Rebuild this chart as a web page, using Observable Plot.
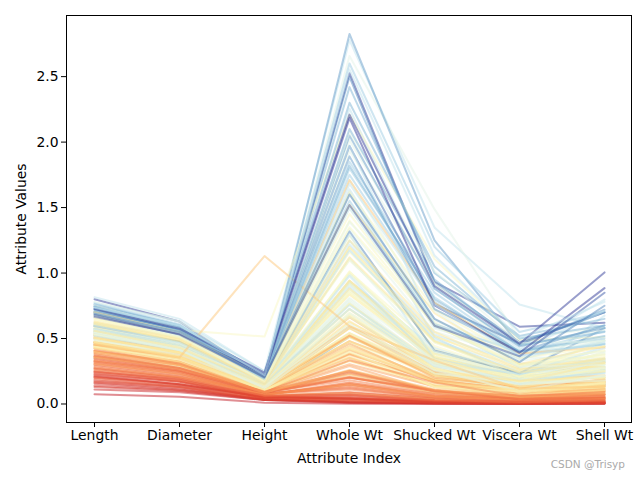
<!DOCTYPE html>
<html>
<head>
<meta charset="utf-8">
<script src="https://cdn.jsdelivr.net/npm/d3@7"></script>
<script src="https://cdn.jsdelivr.net/npm/@observablehq/plot@0.6"></script>
<style>
  html, body { margin: 0; padding: 0; background: white; }
  #chart { width: 640px; height: 480px; }
</style>
</head>
<body>
<div id="chart"></div>
<script>
// Categories (x axis)
const attributes = ["Length", "Diameter", "Height", "Whole Wt", "Shucked Wt", "Viscera Wt", "Shell Wt"];
const yTicks = [0, 0.5, 1.0, 1.5, 2.0, 2.5];
// ring statistics used for the logistic colour mapping
const meanRings = 9.934;
const sdRings = 3.224;

// Specimens: [Length, Diameter, Height, Whole, Shucked, Viscera, Shell, Rings]
const mediumShellsA = [
  [0.455,0.365,0.095,0.514,0.2245,0.101,0.15,15],
  [0.35,0.265,0.09,0.2255,0.0995,0.0485,0.07,7],
  [0.53,0.42,0.135,0.677,0.2565,0.1415,0.21,9],
  [0.44,0.365,0.125,0.516,0.2155,0.114,0.155,10],
  [0.33,0.255,0.08,0.205,0.0895,0.0395,0.055,7],
  [0.425,0.3,0.095,0.3515,0.141,0.0775,0.12,8],
  [0.53,0.415,0.15,0.7775,0.237,0.1415,0.33,11],
  [0.545,0.425,0.125,0.768,0.294,0.1495,0.26,11],
  [0.475,0.37,0.125,0.5095,0.2165,0.1125,0.165,9],
  [0.55,0.44,0.15,0.8945,0.3145,0.151,0.32,12],
  [0.525,0.38,0.14,0.6065,0.194,0.1475,0.21,10],
  [0.43,0.35,0.11,0.406,0.1675,0.081,0.135,10],
  [0.49,0.38,0.135,0.5415,0.2175,0.095,0.19,11],
  [0.535,0.405,0.145,0.6845,0.2725,0.171,0.205,10],
  [0.47,0.355,0.1,0.4755,0.1675,0.0805,0.185,10],
  [0.5,0.4,0.13,0.6645,0.258,0.133,0.24,12],
  [0.355,0.28,0.085,0.2905,0.095,0.0395,0.115,7],
  [0.44,0.34,0.1,0.451,0.188,0.087,0.13,10],
  [0.365,0.295,0.08,0.2555,0.097,0.043,0.1,7],
  [0.45,0.32,0.1,0.381,0.1705,0.075,0.115,9],
  [0.355,0.28,0.095,0.2455,0.0955,0.062,0.075,11],
  [0.38,0.275,0.1,0.2255,0.08,0.049,0.085,10],
  [0.565,0.44,0.155,0.9395,0.4275,0.214,0.27,12],
  [0.55,0.415,0.135,0.7635,0.318,0.21,0.2,9],
  [0.615,0.48,0.165,1.1615,0.513,0.301,0.305,10],
  [0.56,0.44,0.14,0.9285,0.3825,0.188,0.3,11],
  [0.58,0.45,0.185,0.9955,0.3945,0.272,0.285,11],
  [0.59,0.445,0.14,0.931,0.356,0.234,0.28,12],
  [0.605,0.475,0.18,0.9365,0.394,0.219,0.295,11],
  [0.575,0.425,0.14,0.8635,0.393,0.227,0.2,11],
  [0.58,0.47,0.165,0.9975,0.3935,0.242,0.33,10],
  [0.68,0.56,0.165,1.639,0.6055,0.2805,0.46,12],
  [0.665,0.525,0.165,1.338,0.5515,0.3575,0.35,11],
  [0.68,0.55,0.175,1.798,0.815,0.3925,0.455,13],
  [0.705,0.55,0.2,1.7095,0.633,0.4115,0.49,11],
  [0.465,0.355,0.105,0.4795,0.227,0.124,0.125,8],
  [0.54,0.475,0.155,1.217,0.5305,0.3075,0.34,12],
  [0.45,0.355,0.105,0.5225,0.237,0.1165,0.145,8],
  [0.575,0.445,0.135,0.883,0.381,0.2035,0.26,11],
  [0.355,0.29,0.09,0.3275,0.134,0.086,0.09,9],
  [0.45,0.335,0.105,0.425,0.1865,0.091,0.115,9],
  [0.55,0.425,0.135,0.8515,0.362,0.196,0.27,10],
  [0.39,0.295,0.095,0.203,0.0875,0.045,0.075,7],
  [0.47,0.37,0.12,0.5795,0.293,0.227,0.14,9],
  [0.46,0.375,0.12,0.4605,0.1775,0.11,0.15,7],
  [0.525,0.425,0.16,0.8355,0.3545,0.2135,0.245,9],
  [0.52,0.41,0.12,0.595,0.2385,0.111,0.19,8],
  [0.4,0.32,0.095,0.303,0.1335,0.06,0.1,7],
  [0.485,0.36,0.13,0.5415,0.2595,0.096,0.16,10],
  [0.47,0.36,0.12,0.4775,0.2105,0.1055,0.15,10],
  [0.405,0.31,0.1,0.385,0.173,0.0915,0.11,7],
  [0.5,0.4,0.14,0.6615,0.2565,0.1755,0.22,8],
  [0.445,0.35,0.12,0.4425,0.192,0.0955,0.135,8],
  [0.47,0.385,0.135,0.5895,0.2765,0.12,0.17,8]
];

const smallShellsA = [
  [0.155,0.11,0.04,0.0155,0.0065,0.003,0.005,3],
  [0.2,0.145,0.05,0.042,0.017,0.009,0.012,4],
  [0.24,0.175,0.045,0.07,0.0315,0.0235,0.02,5],
  [0.29,0.21,0.075,0.1375,0.0545,0.034,0.04,6],
  [0.18,0.135,0.035,0.0355,0.015,0.007,0.01,3],
  [0.325,0.245,0.075,0.1495,0.0605,0.033,0.045,5],
  [0.255,0.185,0.06,0.0925,0.039,0.021,0.025,6],
  [0.37,0.275,0.085,0.2405,0.104,0.0535,0.07,5],
  [0.205,0.15,0.055,0.042,0.0255,0.015,0.012,5],
  [0.3,0.22,0.08,0.121,0.0475,0.042,0.035,5],
  [0.245,0.19,0.06,0.086,0.042,0.014,0.025,4],
  [0.335,0.25,0.09,0.181,0.0755,0.0415,0.06,6],
  [0.21,0.15,0.05,0.042,0.0175,0.0125,0.015,4],
  [0.31,0.235,0.07,0.151,0.063,0.0405,0.045,6],
  [0.275,0.205,0.075,0.1105,0.045,0.0285,0.035,6],
  [0.325,0.245,0.07,0.161,0.0755,0.0255,0.045,6]
];

const mediumShellsB = [
  [0.505,0.4,0.125,0.583,0.246,0.13,0.175,7],
  [0.45,0.345,0.105,0.4115,0.18,0.1125,0.135,7],
  [0.505,0.405,0.11,0.625,0.305,0.16,0.175,9],
  [0.53,0.41,0.13,0.6965,0.302,0.1935,0.2,10],
  [0.425,0.325,0.095,0.3785,0.1705,0.08,0.1,7],
  [0.52,0.4,0.12,0.58,0.234,0.1315,0.185,8],
  [0.475,0.355,0.12,0.48,0.234,0.1015,0.135,8],
  [0.565,0.44,0.16,0.915,0.354,0.1935,0.32,12],
  [0.595,0.495,0.185,1.285,0.416,0.224,0.485,10],
  [0.475,0.39,0.12,0.5305,0.2135,0.1155,0.17,10],
  [0.555,0.425,0.13,0.7665,0.264,0.168,0.275,10],
  [0.4,0.32,0.11,0.353,0.1405,0.0985,0.1,8],
  [0.595,0.475,0.17,1.247,0.48,0.225,0.425,12],
  [0.57,0.48,0.175,1.185,0.474,0.261,0.38,11],
  [0.605,0.45,0.195,1.098,0.481,0.2895,0.315,11],
  [0.6,0.475,0.15,1.0075,0.4425,0.221,0.28,10],
  [0.595,0.475,0.14,0.944,0.3625,0.189,0.315,9],
  [0.6,0.47,0.15,0.922,0.363,0.194,0.305,10],
  [0.555,0.425,0.14,0.788,0.275,0.1955,0.245,11],
  [0.615,0.475,0.17,1.1025,0.4695,0.2355,0.345,10],
  [0.575,0.445,0.14,0.941,0.3845,0.252,0.285,9],
  [0.62,0.51,0.175,1.615,0.5105,0.192,0.675,12],
  [0.52,0.425,0.165,0.9885,0.396,0.225,0.32,11],
  [0.595,0.475,0.16,1.3175,0.408,0.234,0.58,16],
  [0.58,0.45,0.14,1.013,0.38,0.216,0.36,10],
  [0.57,0.465,0.18,1.295,0.339,0.2225,0.44,12],
  [0.625,0.465,0.14,1.195,0.4825,0.205,0.4,10],
  [0.56,0.44,0.16,0.8645,0.3305,0.2075,0.26,10],
  [0.46,0.355,0.13,0.517,0.2205,0.114,0.165,9],
  [0.575,0.45,0.16,0.9775,0.3135,0.231,0.33,12],
  [0.565,0.425,0.135,0.8115,0.341,0.1675,0.255,11],
  [0.555,0.44,0.15,0.755,0.307,0.1525,0.26,12],
  [0.595,0.465,0.175,1.115,0.4015,0.254,0.39,11],
  [0.695,0.56,0.19,1.494,0.588,0.3425,0.485,12],
  [0.665,0.535,0.195,1.606,0.5755,0.388,0.48,11],
  [0.535,0.435,0.15,0.725,0.269,0.1385,0.25,9],
  [0.47,0.375,0.13,0.523,0.214,0.132,0.145,8],
  [0.47,0.37,0.13,0.5225,0.201,0.133,0.165,7],
  [0.475,0.375,0.125,0.5785,0.2775,0.085,0.155,10],
  [0.36,0.265,0.095,0.2315,0.105,0.046,0.075,7],
  [0.55,0.435,0.145,0.843,0.328,0.1915,0.255,10],
  [0.53,0.435,0.16,0.883,0.316,0.164,0.335,11],
  [0.53,0.415,0.14,0.724,0.3105,0.1675,0.205,10],
  [0.605,0.47,0.16,1.1735,0.4975,0.2405,0.345,12],
  [0.52,0.41,0.155,0.727,0.291,0.1835,0.235,12],
  [0.545,0.43,0.165,0.802,0.2935,0.183,0.28,11],
  [0.5,0.4,0.125,0.6675,0.261,0.1315,0.22,10],
  [0.51,0.39,0.135,0.6335,0.231,0.179,0.2,9],
  [0.435,0.395,0.105,0.3635,0.136,0.098,0.13,9],
  [0.495,0.395,0.125,0.5415,0.2375,0.1345,0.155,9],
  [0.465,0.36,0.105,0.431,0.172,0.107,0.175,9],
  [0.435,0.32,0.08,0.3325,0.1485,0.0635,0.105,9],
  [0.425,0.35,0.105,0.393,0.13,0.063,0.165,9],
  [0.545,0.41,0.125,0.6935,0.2975,0.146,0.21,11],
  [0.53,0.415,0.115,0.5915,0.233,0.1585,0.18,11],
  [0.49,0.375,0.135,0.6125,0.2555,0.102,0.22,11],
  [0.44,0.34,0.105,0.402,0.1305,0.0955,0.165,10],
  [0.56,0.43,0.15,0.8825,0.3465,0.172,0.31,9],
  [0.405,0.305,0.085,0.2605,0.1145,0.0595,0.085,8],
  [0.47,0.365,0.105,0.4205,0.163,0.1035,0.14,9]
];

const largeShells = [
  [0.8,0.63,0.195,2.526,0.933,0.59,0.62,23],
  [0.775,0.63,0.25,2.7795,1.3485,0.76,0.578,12],
  [0.64,0.5,0.17,1.4,0.6,0.3,0.38,10],
  [0.78,0.63,0.215,2.657,1.488,0.4985,0.586,11],
  [0.66,0.52,0.18,1.5,0.65,0.33,0.4,11],
  [0.75,0.6,0.21,2.42,1.0,0.52,0.65,14],
  [0.815,0.65,0.25,2.255,0.8905,0.42,0.7975,12],
  [0.62,0.49,0.17,1.25,0.55,0.27,0.35,9],
  [0.76,0.6,0.2,2.8255,1.25,0.45,0.72,15],
  [0.705,0.565,0.515,2.21,1.1075,0.4865,0.512,10],
  [0.7,0.545,0.19,1.75,0.78,0.37,0.46,13],
  [0.455,0.355,1.13,0.594,0.332,0.116,0.1335,8],
  [0.745,0.585,0.215,2.499,0.9265,0.472,0.7,16],
  [0.65,0.51,0.185,1.45,0.62,0.3,0.41,10],
  [0.765,0.61,0.22,2.6,1.2,0.55,0.7,13],
  [0.72,0.575,0.17,1.9335,0.913,0.389,0.51,11],
  [0.71,0.56,0.22,2.015,0.9215,0.454,0.566,11],
  [0.72,0.56,0.19,1.85,0.85,0.4,0.5,13],
  [0.73,0.595,0.23,2.3,1.05,0.5,0.6,14],
  [0.7,0.575,0.205,1.97,0.765,0.46,0.7,17],
  [0.63,0.5,0.165,1.2,0.52,0.26,0.34,9],
  [0.71,0.57,0.2,2.05,0.88,0.44,0.58,15],
  [0.69,0.54,0.185,1.71,0.7725,0.3855,0.4325,8],
  [0.675,0.55,0.19,1.551,0.6105,0.3955,0.555,13],
  [0.675,0.53,0.18,1.62,0.72,0.35,0.44,10],
  [0.74,0.6,0.195,1.974,0.598,0.4085,0.71,12],
  [0.67,0.52,0.165,1.39,0.711,0.2865,0.3,11],
  [0.61,0.48,0.16,1.12,0.48,0.24,0.32,9],
  [0.695,0.55,0.19,1.82,0.8,0.4,0.52,14],
  [0.755,0.575,0.2,2.073,1.0135,0.4655,0.48,11],
  [0.725,0.565,0.215,1.891,0.7245,0.4,0.6,15],
  [0.74,0.58,0.2,2.1,0.95,0.45,0.55,14],
  [0.665,0.535,0.225,2.1835,0.7535,0.391,0.885,27],
  [0.7,0.55,0.2,1.523,0.693,0.306,0.4405,9],
  [0.69,0.545,0.19,1.68,0.76,0.36,0.47,12],
  [0.69,0.55,0.2,1.6,0.65,0.32,0.75,16],
  [0.725,0.575,0.24,2.21,0.9,0.46,1.005,24],
  [0.655,0.51,0.175,1.35,0.6,0.29,0.37,10],
  [0.68,0.53,0.205,1.5195,0.598,0.364,0.85,19],
  [0.735,0.6,0.22,2.555,1.1335,0.5,0.78,12]
];

const smallShellsB = [
  [0.075,0.055,0.01,0.002,0.001,0.0005,0.0015,1],
  [0.13,0.1,0.03,0.013,0.0045,0.003,0.004,3],
  [0.11,0.09,0.03,0.008,0.0025,0.002,0.003,2],
  [0.165,0.12,0.03,0.0215,0.007,0.005,0.005,3],
  [0.19,0.13,0.045,0.0265,0.009,0.005,0.009,5],
  [0.215,0.15,0.055,0.041,0.015,0.009,0.0125,3],
  [0.225,0.17,0.05,0.0515,0.019,0.012,0.017,4],
  [0.23,0.17,0.05,0.057,0.026,0.013,0.016,4],
  [0.265,0.2,0.065,0.084,0.034,0.0105,0.03,7],
  [0.28,0.205,0.08,0.127,0.052,0.039,0.042,6],
  [0.305,0.225,0.07,0.1485,0.0585,0.0335,0.045,7],
  [0.315,0.23,0.07,0.1645,0.062,0.04,0.05,6],
  [0.345,0.255,0.085,0.2005,0.105,0.037,0.05,5],
  [0.36,0.27,0.09,0.2075,0.098,0.039,0.062,6],
  [0.38,0.275,0.095,0.2505,0.0945,0.0655,0.075,6],
  [0.39,0.3,0.09,0.252,0.1065,0.053,0.08,7],
  [0.41,0.31,0.09,0.3335,0.1635,0.061,0.091,6],
  [0.14,0.105,0.035,0.014,0.0055,0.0025,0.004,3],
  [0.17,0.13,0.035,0.03,0.0135,0.006,0.0085,4],
  [0.25,0.18,0.065,0.0685,0.0245,0.0155,0.0225,5],
  [0.27,0.195,0.06,0.073,0.0285,0.0235,0.03,5]
];

// Long format for Plot
const groups = [mediumShellsA, smallShellsA, mediumShellsB, largeShells, smallShellsB];
const long = [];
let id = 0;
for (const g of groups) {
  for (const r of g) {
    const t = 1 / (1 + Math.exp(-(r[7] - meanRings) / sdRings));
    attributes.forEach((a, i) => long.push({id, attr: a, value: r[i], t}));
    id++;
  }
}

const chart = Plot.plot({
  width: 640,
  height: 480,
  marginLeft: 66,
  marginRight: 9,
  marginTop: 15,
  marginBottom: 58,
  style: {fontFamily: "DejaVu Sans", fontSize: "13.9px", color: "black", background: "white"},
  x: {domain: attributes, type: "point", padding: 0.3},
  y: {domain: [-0.1413, 2.9668]},
  color: {type: "linear", domain: [0, 1], scheme: "RdYlBu"},
  marks: [
    Plot.line(long, {x: "attr", y: "value", z: "id", stroke: "t", strokeOpacity: 0.5, strokeWidth: 2}),
    Plot.frame({stroke: "black", strokeWidth: 1}),
    Plot.axisX({tickSize: 5, tickPadding: 3, label: "Attribute Index", labelAnchor: "center", labelArrow: "none", labelOffset: 40}),
    Plot.axisY({ticks: yTicks, tickFormat: d => d.toFixed(1), tickSize: 5, tickPadding: 3, label: "Attribute Values", labelAnchor: "center", labelArrow: "none", labelOffset: 50})
  ]
});

const svg = d3.select(chart);
svg.append("text")
  .attr("x", 625).attr("y", 468)
  .attr("text-anchor", "end")
  .attr("fill", "#aaaaaa")
  .style("font-size", "10.5px")
  .style("font-family", "DejaVu Sans")
  .text("CSDN @Trisyp");

document.getElementById("chart").appendChild(chart);
</script>
</body>
</html>
